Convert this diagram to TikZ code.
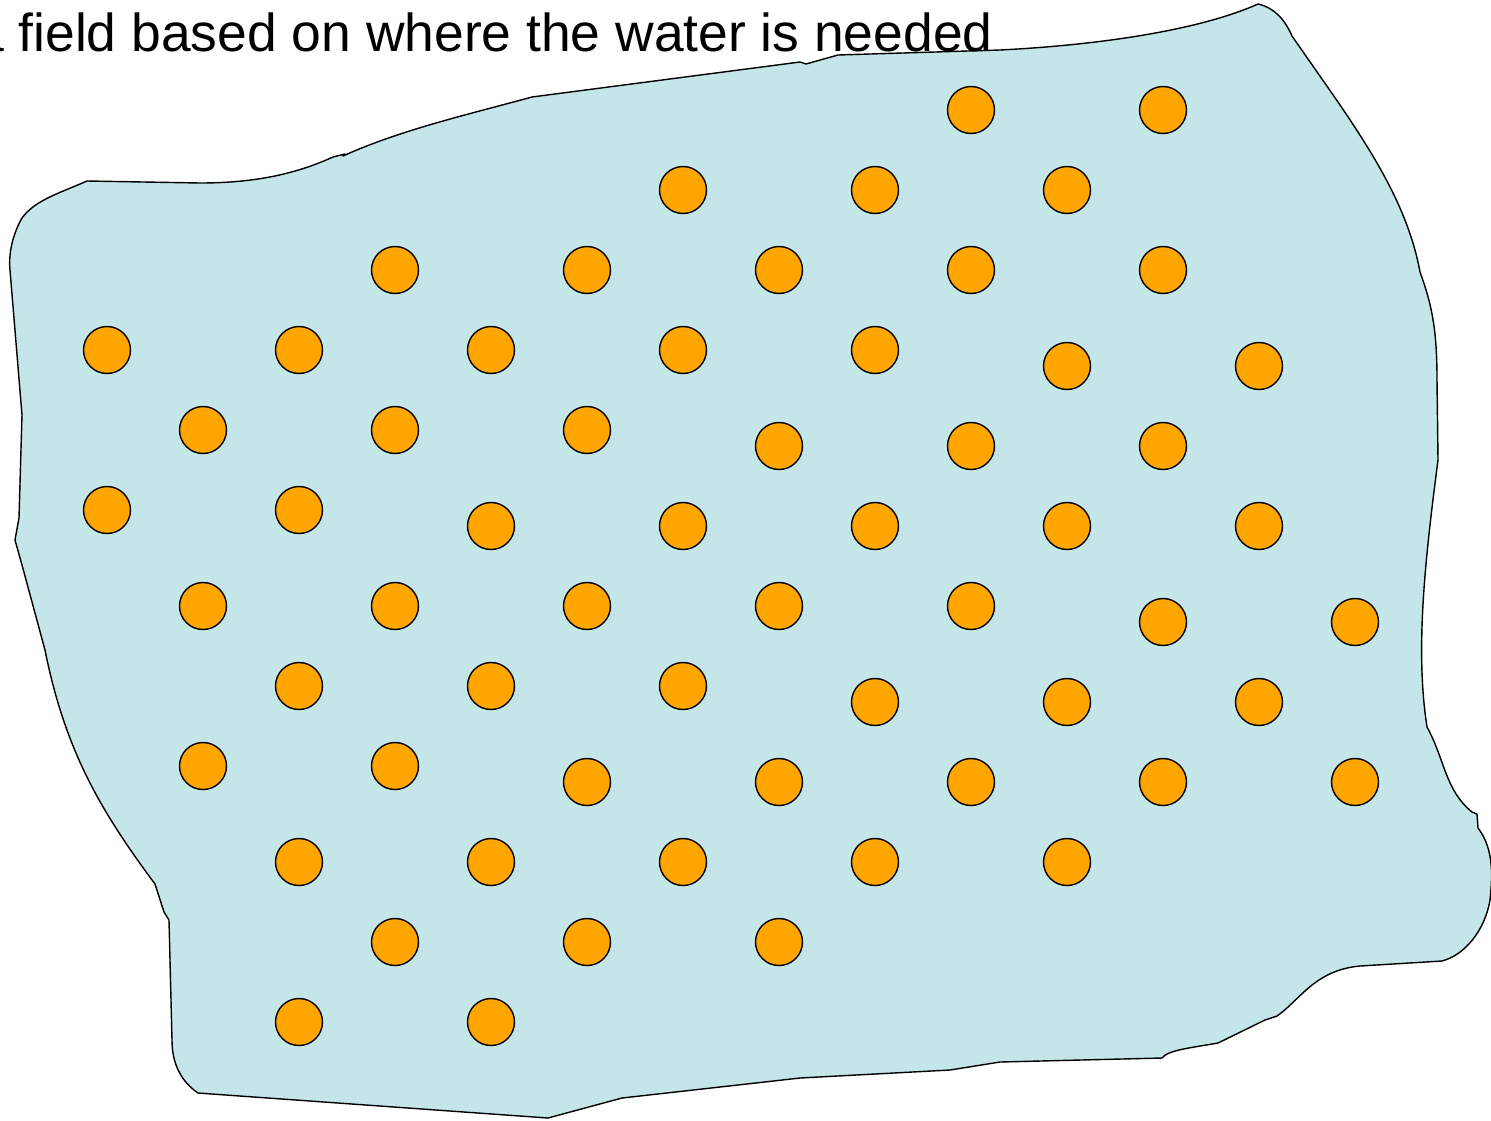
\documentclass[tikz,border=0pt]{standalone}
\usepackage{fontspec}
\setmainfont{Liberation Sans}
\definecolor{fieldblue}{RGB}{196, 230, 232}
\definecolor{sprinkorange}{RGB}{255, 165, 0}

\begin{document}
\begin{tikzpicture}[x=0.02cm, y=-0.02cm,
    sprinkler/.style={circle, draw=black, line width=0.8pt, fill=sprinkorange,
                      minimum size=0.94cm, inner sep=0pt},
    caption/.style={font=\fontsize{30.4}{36}\selectfont, anchor=base east, inner sep=0pt}
]
    \clip (0,0) rectangle (1491,1120);

    % Field outline
    \draw[fill=fieldblue, line width=0.8pt, line join=round]
        (87,181) -- (200,183) .. controls (260,183) and (300,172) .. (333,157)
        -- (345,154) -- (343,156) .. controls (400,130) and (470,114) .. (532,97)
        -- (800,62) -- (806,64) -- (838,55) -- (1000,50)
        .. controls (1100,45) and (1200,30) .. (1258,4)
        .. controls (1275,8) and (1285,20) .. (1292,36)
        .. controls (1350,120) and (1405,190) .. (1420,272)
        .. controls (1432,305) and (1437,330) .. (1437,380) -- (1438,460)
        .. controls (1425,560) and (1415,650) .. (1427,727)
        .. controls (1445,760) and (1445,790) .. (1472,812) -- (1477,814) -- (1478,828)
        .. controls (1495,850) and (1492,880) .. (1490,900)
        .. controls (1485,930) and (1465,955) .. (1442,961) -- (1360,966)
        .. controls (1315,970) and (1300,1000) .. (1277,1016) -- (1265,1020) -- (1218,1043)
        .. controls (1190,1048) and (1168,1050) .. (1162,1058)
        -- (1000,1062) -- (950,1070) -- (800,1078) -- (622,1098) -- (548,1118) -- (198,1093)
        .. controls (182,1082) and (172,1065) .. (172,1040) -- (169,920) -- (164,912) -- (155,884)
        .. controls (100,810) and (65,750) .. (45,650) -- (22,565) -- (15,540) -- (19,518)
        -- (22,415) -- (10,270) .. controls (8,250) and (15,230) .. (22,218)
        .. controls (35,200) and (60,193) .. (87,181) -- cycle;

    % Sprinkler heads, row by row
    \foreach \r/\xs in {110/{971,1163}, 190/{683,875,1067},
                        270/{395,587,779,971,1163}, 350/{107,299,491,683,875},
                        366/{1067,1259}, 430/{203,395,587}, 446/{779,971,1163},
                        510/{107,299}, 526/{491,683,875,1067,1259},
                        606/{203,395,587,779,971}, 622/{1163,1355},
                        686/{299,491,683}, 702/{875,1067,1259}, 766/{203,395},
                        782/{587,779,971,1163,1355}, 862/{299,491,683,875,1067},
                        942/{395,587,779}, 1022/{299,491}}
        \foreach \x in \xs
            \node[sprinkler] (s-\x-\r) at (\x,\r) {};

    % Caption
    \node[caption] (title) at (993,51) {a field based on where the water is needed};
\end{tikzpicture}
\end{document}
